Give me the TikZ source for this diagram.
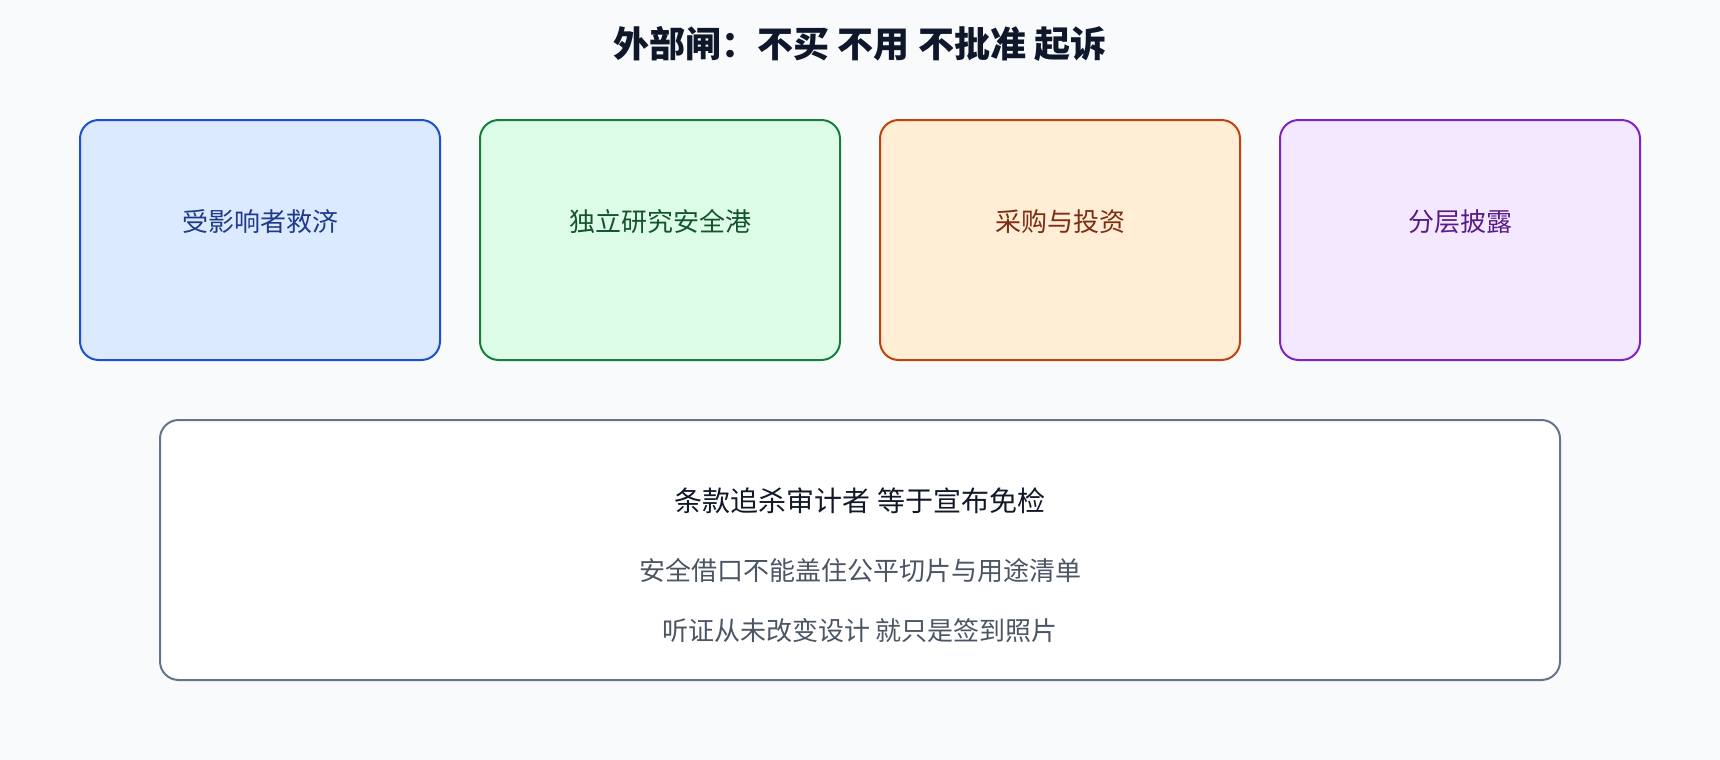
\documentclass[tikz,border=0pt]{standalone}
\usepackage{fontspec}
\setmainfont{Noto Sans CJK SC}
\usepackage{tikz}
\usetikzlibrary{positioning}

\definecolor{pagebg}{HTML}{F8FAFC}
\definecolor{titleink}{HTML}{0F172A}
\definecolor{blueline}{HTML}{1D4ED8}
\definecolor{bluefill}{HTML}{DBEAFE}
\definecolor{blueink}{HTML}{1E3A8A}
\definecolor{greenline}{HTML}{15803D}
\definecolor{greenfill}{HTML}{DCFCE7}
\definecolor{greenink}{HTML}{14532D}
\definecolor{orangeline}{HTML}{C2410C}
\definecolor{orangefill}{HTML}{FFEDD5}
\definecolor{orangeink}{HTML}{7C2D12}
\definecolor{purpleline}{HTML}{7E22CE}
\definecolor{purplefill}{HTML}{F3E8FF}
\definecolor{purpleink}{HTML}{581C87}
\definecolor{slateline}{HTML}{64748B}
\definecolor{noteink}{HTML}{111827}
\definecolor{greyink}{HTML}{4B5563}

\tikzset{
  gate/.style={draw, rounded corners=14, line width=1.5pt, minimum width=270pt, minimum height=180pt, inner sep=0pt},
  gatetext/.style={font=\fontsize{19.5pt}{23pt}\selectfont, inner sep=0pt},
  notetext/.style={font=\fontsize{19.5pt}{23pt}\selectfont, text=greyink, inner sep=0pt}
}

\begin{document}
\begin{tikzpicture}[x=0.75pt, y=-0.75pt]
% page background, in px of the 1720x760 canvas
\fill[pagebg] (0,0) rectangle (1720,760);
\useasboundingbox (0,0) rectangle (1720,760);

% Title on top
\node[font=\bfseries\fontsize{27pt}{32pt}\selectfont, text=titleink, inner sep=0pt] (title) at (860, 44) {外部闸：不买 不用 不批准 起诉};

% Four gates in a row
\node[gate, draw=blueline, fill=bluefill] (g1) at (260, 240) {};
\node[gate, draw=greenline, fill=greenfill] (g2) at (660, 240) {};
\node[gate, draw=orangeline, fill=orangefill] (g3) at (1060, 240) {};
\node[gate, draw=purpleline, fill=purplefill] (g4) at (1460, 240) {};

\node[gatetext, text=blueink] (t1) at (260, 222) {受影响者救济};
\node[gatetext, text=greenink] (t2) at (660, 222) {独立研究安全港};
\node[gatetext, text=orangeink] (t3) at (1060, 222) {采购与投资};
\node[gatetext, text=purpleink] (t4) at (1460, 222) {分层披露};

% Note box at the bottom
\node[draw=slateline, fill=white, rounded corners=14, line width=1.5pt, minimum width=1050pt, minimum height=195pt, inner sep=0pt] (note) at (860, 550) {};
\node[font=\fontsize{21pt}{25pt}\selectfont, text=noteink, inner sep=0pt] (n1) at (860, 501) {条款追杀审计者 等于宣布免检};
\node[notetext] (n2) at (860, 571) {安全借口不能盖住公平切片与用途清单};
\node[notetext] (n3) at (860, 631) {听证从未改变设计 就只是签到照片};

\end{tikzpicture}
\end{document}
